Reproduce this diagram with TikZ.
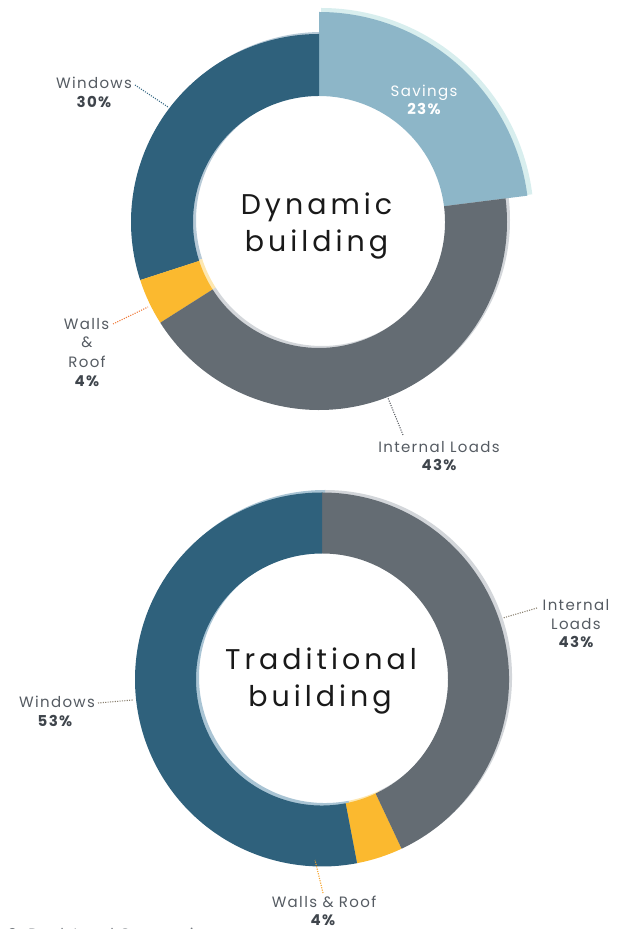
\documentclass[tikz,border=0pt]{standalone}
\usepackage{fontspec}
\setmainfont{Poppins}
\newfontfamily\labfont[LetterSpace=9]{Poppins}
\newfontfamily\bigfont[LetterSpace=14]{Poppins}
\definecolor{winblue}{HTML}{2F617C}
\definecolor{winrim}{HTML}{A9C4D4}
\definecolor{savblue}{HTML}{8DB6C8}
\definecolor{savrim}{HTML}{D8EEEE}
\definecolor{loadgray}{HTML}{646C73}
\definecolor{loadrim}{HTML}{D3D6DA}
\definecolor{wallyel}{HTML}{FBB92F}
\definecolor{wallrim}{HTML}{FDE7B0}
\definecolor{labgray}{HTML}{555B62}
\definecolor{pctgray}{HTML}{3F454C}
\definecolor{leadblue}{HTML}{3F6F8A}
\definecolor{leadorange}{HTML}{F07A3A}
\definecolor{leadgray}{HTML}{5E6166}
\definecolor{leadbrown}{HTML}{8A8070}
\newcommand\annseg[7]{%
  \fill[#7] ([shift={(#3:#6pt)}]#1,#2) arc[start angle=#3,end angle=#4,radius=#6pt]
    -- ([shift={(#4:#5pt)}]#1,#2) arc[start angle=#4,end angle=#3,radius=#5pt] -- cycle;}
\tikzset{
  lab/.style={font=\labfont\fontsize{15}{18}\selectfont, text=labgray, inner sep=0pt, anchor=base},
  pct/.style={font=\labfont\bfseries\fontsize{15}{18}\selectfont, text=pctgray, inner sep=0pt, anchor=base},
  centertext/.style={font=\bigfont\fontsize{28.5}{32}\selectfont, text=black!90, inner sep=0pt, anchor=base},
  leader/.style={line width=1.1pt, dash pattern=on 1.1pt off 1.3pt}
}
\begin{document}
\begin{tikzpicture}[x=1pt,y=1pt]
\useasboundingbox (0,0) rectangle (626,929);
\clip (0,0) rectangle (626,929);
% ---------- top donut (Dynamic building), centre (319,707)
\annseg{322}{709}{90}{198}{126}{188}{winrim!70!loadrim}
\annseg{322}{709}{198}{212.4}{126}{188}{wallrim}
\annseg{322}{709}{212.4}{367.2}{126}{188}{loadrim}
\annseg{321}{708}{7.2}{90}{126}{213}{savrim}
\annseg{319}{707}{7.2}{90}{126}{210}{savblue}
\annseg{319}{707}{90}{198}{126}{188}{winblue}
\annseg{319}{707}{198}{212.4}{126}{188}{wallyel}
\annseg{319}{707}{212.4}{367.2}{126}{188}{loadgray}
\node[centertext] (dyn1) at (316.5,714) {Dynamic};
\node[centertext] (dyn2) at (316.5,677) {building};
\node[lab, text=white] (sav1) at (424,832) {Savings};
\node[pct, text=white] (sav2) at (424,814) {23\%};
\node[lab] (tw1) at (94,840) {Windows};
\node[pct] (tw2) at (94,821) {30\%};
\node[lab] (twr1) at (86.5,599) {Walls};
\node[lab] (twr2) at (87,581) {\&};
\node[lab] (twr3) at (87,561) {Roof};
\node[pct] (twr4) at (87,542) {4\%};
\node[lab] (til1) at (439,476) {Internal Loads};
\node[pct] (til2) at (439,458) {43\%};
\coordinate (twA) at (135,844);
\coordinate (twB) at (168,822);
\coordinate (twrA) at (113,605);
\coordinate (twrB) at (148,622);
\coordinate (tilA) at (403,494);
\coordinate (tilB) at (388,531);
\draw[leader, leadblue] (twA) -- (twB);
\draw[leader, leadorange] (twrA) -- (twrB);
\draw[leader, leadgray] (tilA) -- (tilB);
% ---------- bottom donut (Traditional building), centre (322,249.5)
\annseg{325}{252}{-79.2}{-64.8}{126}{187}{wallrim}
\annseg{325}{252}{-64.8}{90}{126}{187}{loadrim}
\annseg{325}{252}{90}{280.8}{126}{187}{winrim}
\annseg{322}{249.5}{-79.2}{-64.8}{126}{187}{wallyel}
\annseg{322}{249.5}{-64.8}{90}{126}{187}{loadgray}
\annseg{322}{249.5}{90}{280.8}{126}{187}{winblue}
\node[centertext] (tra1) at (321,259) {Traditional};
\node[centertext] (tra2) at (320,222) {building};
\node[lab] (bil1) at (576,318) {Internal};
\node[lab] (bil2) at (576,299) {Loads};
\node[pct] (bil3) at (576,281) {43\%};
\node[lab] (bw1) at (57,221) {Windows};
\node[pct] (bw2) at (55,202) {53\%};
\node[lab] (bwr1) at (324,21) {Walls \& Roof};
\node[pct] (bwr2) at (323,3.5) {4\%};
\coordinate (bilA) at (537,321);
\coordinate (bilB) at (503,311);
\coordinate (bwA) at (98,226);
\coordinate (bwB) at (133,229);
\coordinate (bwrA) at (323,36);
\coordinate (bwrB) at (315,69);
\draw[leader, leadbrown] (bilA) -- (bilB);
\draw[leader, leadbrown] (bwA) -- (bwB);
\draw[leader, leadorange!70!yellow] (bwrA) -- (bwrB);
% ---------- clipped caption
\node[lab, anchor=base west, text=labgray!80] (cap) at (-3,-10) {t 2: Peak Load Comparison};
\end{tikzpicture}
\end{document}
